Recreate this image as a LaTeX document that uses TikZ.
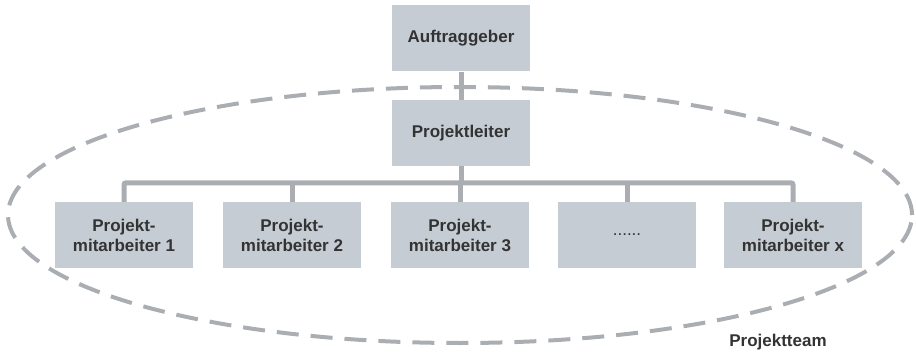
\documentclass[tikz,border=0pt]{standalone}
\usepackage{fontspec}
\setmainfont{Liberation Sans}
\usetikzlibrary{calc}
\definecolor{boxgray}{HTML}{C5CCD3}
\definecolor{linegray}{HTML}{AAAEB3}
\definecolor{textgray}{HTML}{333333}

\begin{document}
\begin{tikzpicture}[x=1pt,y=1pt,
		font=\fontsize{17}{20}\selectfont\bfseries,
		box/.style={fill=boxgray,text=textgray,minimum width=138pt,minimum height=66pt,inner sep=0pt,align=center},
		link/.style={draw=linegray,line width=5pt,rounded corners=2pt}]
	\useasboundingbox (0,0) rectangle (916,354);
	% team
	\draw[linegray,line width=4pt,dash pattern=on 22pt off 12pt] (460,139) ellipse [x radius=452, y radius=128];
	\node[text=textgray] (team) at (778,12) {Projektteam};
	% boxes
	\node[box] (auftrag) at (461,315.5) {Auftraggeber};
	\node[box] (leiter) at (461,221) {Projektleiter};
	\foreach \name/\position/\label in {m1/124/{Projekt-\\mitarbeiter 1}, m2/292/{Projekt-\\mitarbeiter 2}, m3/460/{Projekt-\\mitarbeiter 3}, m4/627/{\mdseries......}, m5/793/{Projekt-\\mitarbeiter x}} {
		\node[box] (\name) at (\position,119) {\label};
	}
	% lines
	\draw[link] (auftrag) -- (leiter);
	\draw[link] (leiter.south) -- ++(0,-19);
	\draw[link] (m1.north) -- ++(0,19) -| (m5.north);
	\foreach \name in {m2,m3,m4} {
		\draw[link] (\name.north) -- ++(0,19);
	}
\end{tikzpicture}
\end{document}
